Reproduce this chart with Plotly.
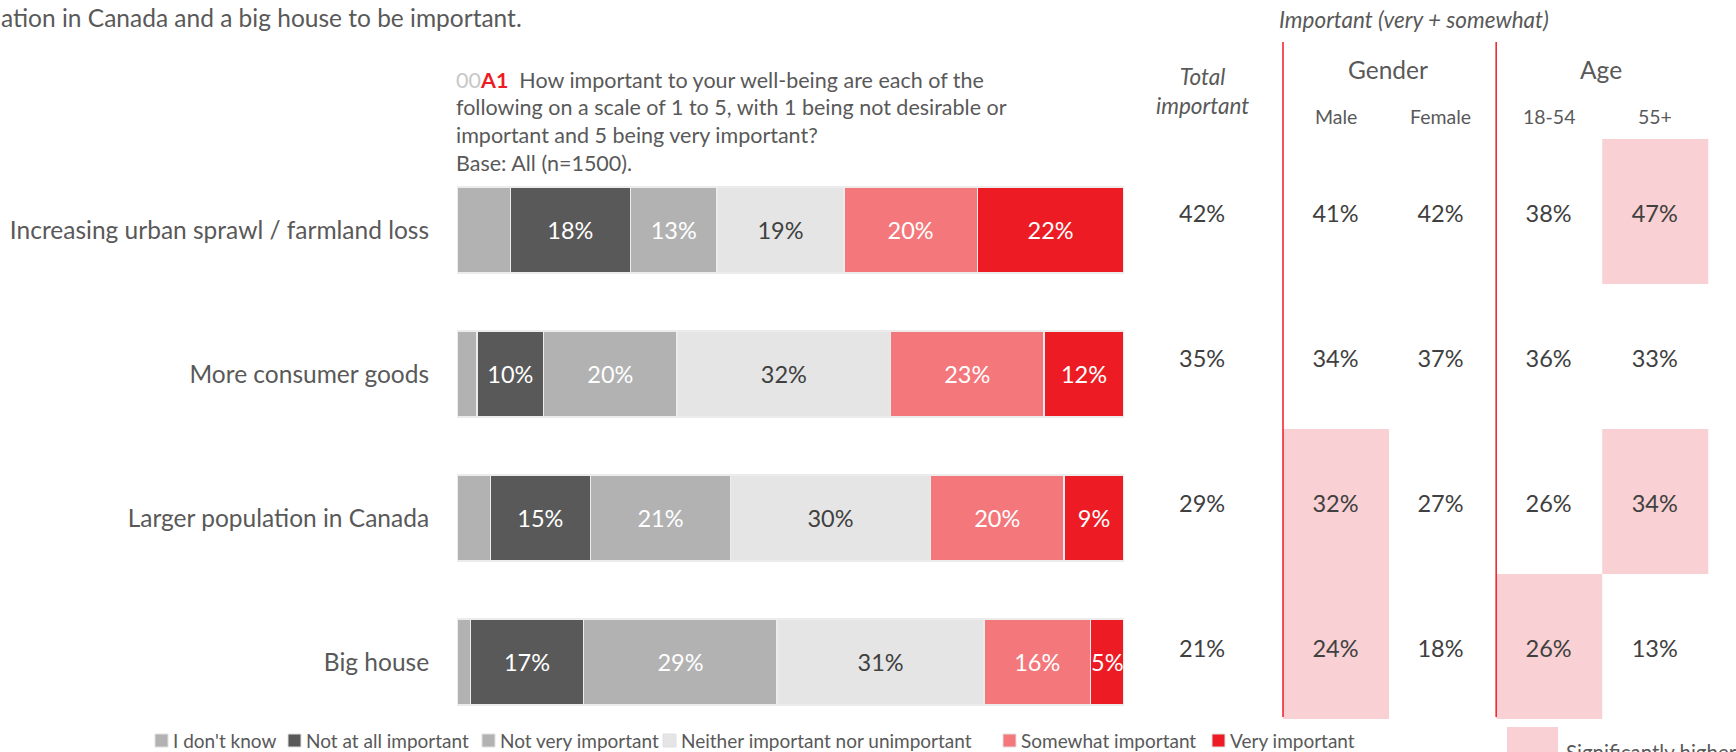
import plotly.graph_objects as go

# ---- data -------------------------------------------------------------
items = [
    "Increasing urban sprawl / farmland loss",
    "More consumer goods",
    "Larger population in Canada",
    "Big house",
]
series_names = [
    "I don't know",
    "Not at all important",
    "Not very important",
    "Neither important nor unimportant",
    "Somewhat important",
    "Very important",
]
dont_know = [8, 3, 5, 2]
not_at_all = [18, 10, 15, 17]
not_very = [13, 20, 21, 29]
neither = [19, 32, 30, 31]
somewhat = [20, 23, 20, 16]
very = [22, 12, 9, 5]

table_columns = ["Total", "Male", "Female", "18-54", "55+"]
total_imp = [42, 35, 29, 21]
male_imp = [41, 34, 32, 24]
female_imp = [42, 37, 27, 18]
age_18_54 = [38, 36, 26, 26]
age_55_plus = [47, 33, 34, 13]
# significantly higher flags, per column (Total has none)
sig_male = [False, False, True, True]
sig_female = [False, False, False, False]
sig_18_54 = [False, False, False, True]
sig_55_plus = [True, False, True, False]

# ---- style ------------------------------------------------------------
W, H = 1736, 752
FONT = "Lato"
TXT = "#595959"
DARK = "#404040"
PINK = "#f9d0d3"
RED = "#ed1c24"
colors = ["#b2b2b2", "#595959", "#b2b2b2", "#e5e5e5", "#f4777b", "#ed1c24"]
label_colors = ["white", "white", "white", DARK, "white", "white"]


def px_x(p):
    return p / W


def px_y(p):
    return 1 - p / H


fig = go.Figure()

all_series = [dont_know, not_at_all, not_very, neither, somewhat, very]
for i, (name, vals) in enumerate(zip(series_names, all_series)):
    show_text = i != 0
    fig.add_trace(go.Bar(
        y=list(range(len(items))),
        x=vals,
        name=name,
        orientation="h",
        marker=dict(color=colors[i], line=dict(color="#ececec", width=1.5)),
        text=[f"{v}%" for v in vals] if show_text else None,
        textposition="inside" if show_text else "none",
        insidetextanchor="middle",
        textangle=0,
        constraintext="none",
        cliponaxis=True,
        textfont=dict(family=FONT, size=23.5, color=label_colors[i]),
        hoverinfo="skip",
        showlegend=False,
        xaxis="x", yaxis="y",
    ))

# ---- table of "important" shares --------------------------------------
col_x = [-1.27, 0.0, 1.0, 2.03, 3.04]
col_vals = [total_imp, male_imp, female_imp, age_18_54, age_55_plus]
col_sig = [None, sig_male, sig_female, sig_18_54, sig_55_plus]
shapes = []
for cx, vals, sig in zip(col_x, col_vals, col_sig):
    if sig is not None:
        for r, flag in enumerate(sig):
            if flag:
                shapes.append(dict(
                    type="rect", xref="x2", yref="y2",
                    x0=cx - 0.5, x1=cx + 0.51, y0=r - 0.5, y1=r + 0.5,
                    fillcolor=PINK, line=dict(width=0), layer="below",
                ))
    fig.add_trace(go.Scatter(
        x=[cx] * len(vals), y=[r + 0.03 for r in range(len(vals))],
        mode="text", text=[f"{v}%" for v in vals],
        textfont=dict(family=FONT, size=23.5, color=DARK),
        hoverinfo="skip", showlegend=False,
        xaxis="x2", yaxis="y2",
    ))

# red separators between the column groups
for lx in (-0.5, 1.53):
    shapes.append(dict(
        type="line", xref="x2", yref="paper",
        x0=lx, x1=lx, y0=px_y(717), y1=px_y(42),
        line=dict(color=RED, width=1.5),
    ))

annotations = []


def note(text, x, y, size, xref="paper", xanchor="center", color=TXT,
         italic=False, yanchor="middle"):
    if italic:
        text = f"<i>{text}</i>"
    annotations.append(dict(
        text=text, x=x, y=y, xref=xref, yref="paper",
        xanchor=xanchor, yanchor=yanchor, showarrow=False,
        font=dict(family=FONT, size=size, color=color),
    ))


# headline (runs in from the left edge)
note("ation in Canada and a big house to be important.", px_x(-1), px_y(18),
     24.5, xanchor="left")

# question text
q_lines = [
    "<span style='color:#c8c8c8'>00</span><b><span style='color:#ed1c24'>A1</span></b>"
    "  How important to your well-being are each of the",
    "following on a scale of 1 to 5, with 1 being not desirable or",
    "important and 5 being very important?",
    "Base: All (n=1500).",
]
for k, line in enumerate(q_lines):
    note(line, px_x(454), px_y(80 + 27.5 * k), 21.5, xanchor="left")

# table headers
note("Important (very + somewhat)", px_x(1414), px_y(20), 22.5, italic=True)
note("Total<br>important", col_x[0], px_y(91), 22.5, xref="x2", italic=True)
note("Gender", 0.5, px_y(69), 24.5, xref="x2")
note("Age", 2.53, px_y(69), 24.5, xref="x2")
for cx, name in zip(col_x[1:], table_columns[1:]):
    note(name, cx, px_y(116), 19.5, xref="x2")

# legend row under the bars
legend_x = [155, 288, 482, 663, 1003, 1212]
for name, c, lx in zip(series_names, colors, legend_x):
    shapes.append(dict(
        type="rect", xref="paper", yref="paper",
        x0=px_x(lx), x1=px_x(lx + 13), y0=px_y(747), y1=px_y(734),
        fillcolor=c, line=dict(color="#e0e0e0", width=1),
    ))
    note(name, px_x(lx + 16), px_y(740), 19, xanchor="left")

# significance key
shapes.append(dict(
    type="rect", xref="paper", yref="paper",
    x0=px_x(1507), x1=px_x(1558), y0=0, y1=px_y(727),
    fillcolor=PINK, line=dict(width=0),
))
note("Significantly higher", px_x(1564), px_y(738), 20.5, xanchor="left",
     yanchor="top")

fig.update_layout(
    width=W, height=H,
    margin=dict(l=0, r=0, t=0, b=0),
    paper_bgcolor="white", plot_bgcolor="rgba(0,0,0,0)",
    barmode="stack", bargap=0.4,
    font=dict(family=FONT, color=TXT),
    xaxis=dict(domain=[px_x(457), px_x(1124)], range=[0, 100],
               visible=False, fixedrange=True),
    yaxis=dict(domain=[px_y(734), px_y(158)], range=[3.5, -0.5],
               tickmode="array", tickvals=list(range(len(items))),
               ticktext=items, ticks="outside", ticklen=22,
               tickcolor="rgba(0,0,0,0)", showgrid=False, zeroline=False,
               showline=False,
               tickfont=dict(family=FONT, size=24.5, color=TXT)),
    xaxis2=dict(domain=[px_x(1073), 1.0], range=[-2.5, 3.814],
                visible=False, anchor="y2"),
    yaxis2=dict(domain=[px_y(719), px_y(139)], range=[3.5, -0.5],
                visible=False, anchor="x2"),
    shapes=shapes,
    annotations=annotations,
    showlegend=False,
)

fig.write_html("out.html")
